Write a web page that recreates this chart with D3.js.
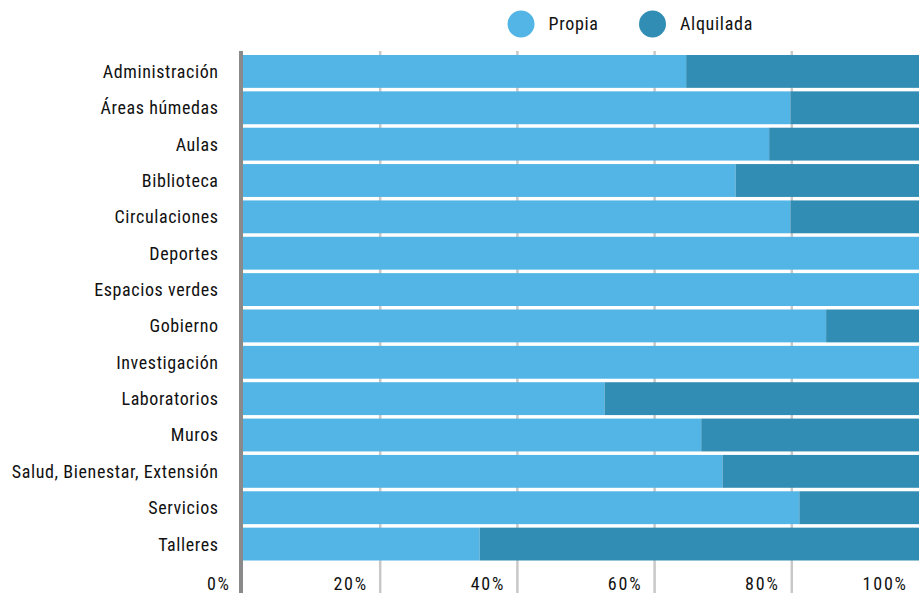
<!DOCTYPE html>
<html>
<head>
<meta charset="utf-8">
<script src="https://cdn.jsdelivr.net/npm/d3@7"></script>
<style>
  html, body { margin: 0; padding: 0; background: #fff; overflow: hidden; }
  svg { display: block; }
  text { font-family: "Liberation Sans Narrow", "Roboto Condensed", "DejaVu Sans Condensed", sans-serif; fill: #111; }
</style>
</head>
<body>
<svg id="chart" width="919" height="593"></svg>
<script>
const categories = ["Administración", "Áreas húmedas", "Aulas", "Biblioteca", "Circulaciones", "Deportes", "Espacios verdes", "Gobierno", "Investigación", "Laboratorios", "Muros", "Salud, Bienestar, Extensión", "Servicios", "Talleres"];
const propia = [64.6, 79.8, 76.7, 71.8, 79.8, 100, 100, 85.0, 100, 52.7, 66.8, 69.9, 81.1, 34.5];
const alquilada = [35.4, 20.2, 23.3, 28.2, 20.2, 0, 0, 15.0, 0, 47.3, 33.2, 30.1, 18.9, 65.5];
const seriesNames = ["Propia", "Alquilada"];
const seriesColors = ["#52b5e6", "#318db3"];
const tickValues = [0, 20, 40, 60, 80, 100];
const tickLabels = ["0%", "20%", "40%", "60%", "80%", "100%"];

const svg = d3.select("#chart");
const x = d3.scaleLinear().domain([0, 100]).range([243, 929]);
const y = d3.scaleBand().domain(categories).range([53.25, 562.25]).paddingInner(3.5/36.36).paddingOuter(1.75/36.36);
const color = d3.scaleOrdinal().domain(seriesNames).range(seriesColors);

const rows = categories.map((c, i) => ({cat: c, Propia: propia[i], Alquilada: alquilada[i]}));
const stacked = d3.stack().keys(seriesNames)(rows);

// gridlines
svg.append("g").selectAll("line").data(tickValues.slice(1)).join("line")
  .attr("x1", d => x(d)).attr("x2", d => x(d))
  .attr("y1", 51).attr("y2", 593)
  .attr("stroke", "#c8c8c8").attr("stroke-width", 2.5);

// bars
svg.append("g").selectAll("g").data(stacked).join("g")
  .attr("fill", d => color(d.key))
  .selectAll("rect").data(d => d).join("rect")
  .attr("x", d => x(d[0]))
  .attr("width", d => x(d[1]) - x(d[0]))
  .attr("y", d => y(d.data.cat))
  .attr("height", y.bandwidth());

// left axis line
svg.append("line").attr("x1", 241).attr("x2", 241).attr("y1", 51).attr("y2", 593)
  .attr("stroke", "#8a8a8a").attr("stroke-width", 4);

// y labels
svg.append("g").selectAll("text").data(categories).join("text")
  .attr("x", 218.6)
  .attr("y", d => y(d) + y.bandwidth() / 2)
  .attr("dy", "0.36em")
  .attr("text-anchor", "end")
  .attr("font-size", 18)
  .attr("letter-spacing", 0.6)
  .text(d => d);

// x tick labels
svg.append("g").selectAll("text").data(tickValues).join("text")
  .attr("x", (d, i) => (i === tickValues.length - 1 ? 906 : x(d) - 14) + 1.8)
  .attr("y", 590)
  .attr("text-anchor", "end")
  .attr("font-size", 18)
  .attr("letter-spacing", 1.8)
  .text((d, i) => tickLabels[i]);

// legend
const legendX = [521, 652.5];
const lg = svg.append("g").selectAll("g").data(seriesNames).join("g");
lg.append("circle").attr("cx", (d, i) => legendX[i]).attr("cy", 24).attr("r", 13.5).attr("fill", d => color(d));
lg.append("text").attr("x", (d, i) => legendX[i] + 27.5).attr("y", 24).attr("dy", "0.36em")
  .attr("font-size", 18).attr("letter-spacing", 0.7).text(d => d);
</script>
</body>
</html>
